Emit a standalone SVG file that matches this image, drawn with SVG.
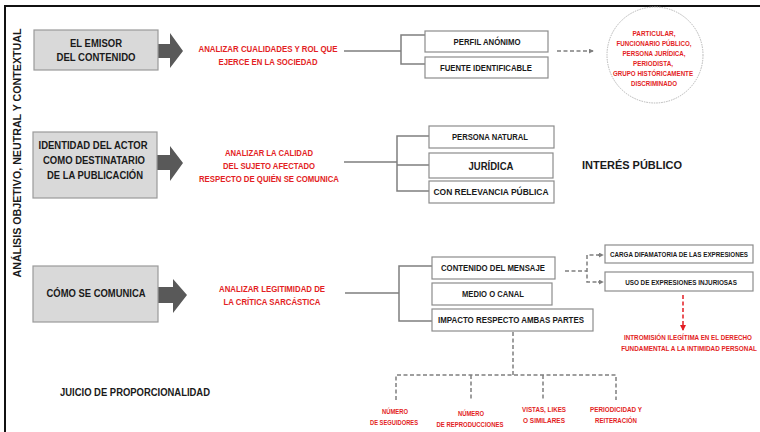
<svg xmlns="http://www.w3.org/2000/svg" width="760" height="432" viewBox="0 0 760 432">
<defs>
<style>
.frame{stroke:#111;stroke-width:2;fill:none}
.gbox{fill:#d9d9d9;stroke:#9a9a9a;stroke-width:1.2}
.wbox{fill:#fff;stroke:#8c8c8c;stroke-width:1.2}
.bracket{fill:none;stroke:#7f7f7f;stroke-width:1.5}
.dash{fill:none;stroke:#7f7f7f;stroke-width:1.5;stroke-dasharray:4 2.5}
.rdash{fill:none;stroke:#e31e24;stroke-width:1.5;stroke-dasharray:4 2.5}
.bigarrow{fill:#595959}
.t{font-family:"Liberation Sans Narrow","Liberation Sans",Arial,sans-serif;text-anchor:middle;dominant-baseline:central}
.blk{fill:#1a1a1a;font-weight:bold}
.b11{font-size:11px}
.b9{font-size:9px}
.red{fill:#e31e24}
.r9{font-size:9px;font-weight:bold}
.r8{font-size:8px;font-weight:bold}
</style>
<marker id="ag" viewBox="0 0 6 6" refX="5" refY="3" markerWidth="5" markerHeight="5" orient="auto" markerUnits="userSpaceOnUse"><path d="M0,0 L6,3 L0,6 z" fill="#7f7f7f"/></marker>
<marker id="ar" viewBox="0 0 6 6" refX="5" refY="3" markerWidth="6" markerHeight="6" orient="auto" markerUnits="userSpaceOnUse"><path d="M0,0 L6,3 L0,6 z" fill="#e31e24"/></marker>
</defs>

<g id="frame">
<path class="frame" d="M5,432 V6 H760"/>
<text class="t blk" font-size="11" transform="translate(17,153) rotate(-90)" textLength="249" lengthAdjust="spacingAndGlyphs" style="font-family:'Liberation Sans',Arial,sans-serif">ANÁLISIS OBJETIVO, NEUTRAL Y CONTEXTUAL</text>
</g>

<g id="connectors">
<path class="bigarrow" d="M150,44 H170 V33 L183,51 L170,68 V58 H150 z"/>
<path class="bigarrow" d="M150,155 H170 V146 L183,163 L170,181 V170 H150 z"/>
<path class="bigarrow" d="M153,287 H173 V279 L187,295 L173,313 V303 H153 z"/>
<path class="bracket" d="M344,51 H401 M425,35 H401 V64 H425"/>
<path class="bracket" d="M344,162 H397 M429,136 H397 V191 H429 M397,165 H429"/>
<path class="bracket" d="M345,293 H399 M432,266 H399 V321 H432"/>
<line class="dash" x1="557" y1="51" x2="593" y2="51" marker-end="url(#ag)"/>
<path class="dash" d="M565,271 H587 M600,255 H587 V282 H600"/>
<line class="dash" x1="598" y1="255" x2="603" y2="255" marker-end="url(#ag)" stroke-dasharray="none"/>
<line class="dash" x1="598" y1="282" x2="603" y2="282" marker-end="url(#ag)" stroke-dasharray="none"/>
<line class="rdash" x1="683" y1="295" x2="683" y2="330" marker-end="url(#ar)"/>
<path class="dash" d="M513,332 V375 M396,400 V375 H616 V400 M471,375 V400 M543,375 V400"/>
</g>

<g id="emisor">
<rect class="gbox" x="34" y="30" width="124" height="40"/>
<text class="t blk b11" x="96" y="43" textLength="52" lengthAdjust="spacingAndGlyphs">EL EMISOR</text>
<text class="t blk b11" x="96" y="57" textLength="79" lengthAdjust="spacingAndGlyphs">DEL CONTENIDO</text>
</g>
<g id="analizar1">
<text class="t red r9" x="268" y="49" textLength="139" lengthAdjust="spacingAndGlyphs">ANALIZAR CUALIDADES Y ROL QUE</text>
<text class="t red r9" x="268" y="62" textLength="99" lengthAdjust="spacingAndGlyphs">EJERCE EN LA SOCIEDAD</text>
</g>
<g id="perfil">
<rect class="wbox" x="425" y="31" width="123" height="21"/>
<text class="t blk b9" x="487" y="42" textLength="67" lengthAdjust="spacingAndGlyphs">PERFIL ANÓNIMO</text>
</g>
<g id="fuente">
<rect class="wbox" x="425" y="57" width="123" height="21"/>
<text class="t blk b9" x="486" y="68" textLength="92" lengthAdjust="spacingAndGlyphs">FUENTE IDENTIFICABLE</text>
</g>
<g id="circulo">
<circle cx="655" cy="55" r="48" fill="#fff" stroke="#b5b5b5" stroke-width="1" stroke-dasharray="1.5 1"/>
<text class="t red r8" x="654" y="33" textLength="43" lengthAdjust="spacingAndGlyphs">PARTICULAR,</text>
<text class="t red r8" x="654" y="43" textLength="75" lengthAdjust="spacingAndGlyphs">FUNCIONARIO PÚBLICO,</text>
<text class="t red r8" x="654" y="53" textLength="63" lengthAdjust="spacingAndGlyphs">PERSONA JURÍDICA,</text>
<text class="t red r8" x="653" y="63" textLength="40" lengthAdjust="spacingAndGlyphs">PERIODISTA,</text>
<text class="t red r8" x="653" y="73" textLength="80" lengthAdjust="spacingAndGlyphs">GRUPO HISTÓRICAMENTE</text>
<text class="t red r8" x="654" y="83" textLength="46" lengthAdjust="spacingAndGlyphs">DISCRIMINADO</text>
</g>

<g id="identidad">
<rect class="gbox" x="33" y="132" width="124" height="66"/>
<text class="t blk b11" x="93" y="145" textLength="109" lengthAdjust="spacingAndGlyphs">IDENTIDAD DEL ACTOR</text>
<text class="t blk b11" x="94" y="160" textLength="102" lengthAdjust="spacingAndGlyphs">COMO DESTINATARIO</text>
<text class="t blk b11" x="95" y="175" textLength="96" lengthAdjust="spacingAndGlyphs">DE LA PUBLICACIÓN</text>
</g>
<g id="analizar2">
<text class="t red r9" x="269" y="153" textLength="88" lengthAdjust="spacingAndGlyphs">ANALIZAR LA CALIDAD</text>
<text class="t red r9" x="269" y="166" textLength="92" lengthAdjust="spacingAndGlyphs">DEL SUJETO AFECTADO</text>
<text class="t red r9" x="269" y="179" textLength="140" lengthAdjust="spacingAndGlyphs">RESPECTO DE QUIÉN SE COMUNICA</text>
</g>
<g id="natural">
<rect class="wbox" x="429" y="126" width="125" height="22"/>
<text class="t blk b9" x="490" y="137" textLength="76" lengthAdjust="spacingAndGlyphs">PERSONA NATURAL</text>
</g>
<g id="juridica">
<rect class="wbox" x="429" y="153" width="124" height="25"/>
<text class="t blk b11" x="491" y="166" textLength="45" lengthAdjust="spacingAndGlyphs">JURÍDICA</text>
</g>
<g id="relevancia">
<rect class="wbox" x="429" y="181" width="125" height="22"/>
<text class="t blk b9" x="491" y="192" textLength="115" lengthAdjust="spacingAndGlyphs">CON RELEVANCIA PÚBLICA</text>
</g>
<g id="interes">
<text class="t blk b11" x="632" y="165" textLength="100" lengthAdjust="spacingAndGlyphs">INTERÉS PÚBLICO</text>
</g>

<g id="como">
<rect class="gbox" x="33" y="266" width="125" height="56"/>
<text class="t blk b11" x="96" y="293" textLength="99" lengthAdjust="spacingAndGlyphs">CÓMO SE COMUNICA</text>
</g>
<g id="analizar3">
<text class="t red r9" x="272" y="289" textLength="106" lengthAdjust="spacingAndGlyphs">ANALIZAR LEGITIMIDAD DE</text>
<text class="t red r9" x="272" y="302" textLength="97" lengthAdjust="spacingAndGlyphs">LA CRÍTICA SARCÁSTICA</text>
</g>
<g id="contenido">
<rect class="wbox" x="432" y="257" width="123" height="22"/>
<text class="t blk b9" x="493" y="268" textLength="104" lengthAdjust="spacingAndGlyphs">CONTENIDO DEL MENSAJE</text>
</g>
<g id="medio">
<rect class="wbox" x="432" y="283" width="120" height="22"/>
<text class="t blk b9" x="493" y="294" textLength="62" lengthAdjust="spacingAndGlyphs">MEDIO O CANAL</text>
</g>
<g id="impacto">
<rect class="wbox" x="432" y="309" width="161" height="22"/>
<text class="t blk b9" x="511" y="320" textLength="146" lengthAdjust="spacingAndGlyphs">IMPACTO RESPECTO AMBAS PARTES</text>
</g>
<g id="carga">
<rect class="wbox" x="605" y="245" width="148" height="18"/>
<text class="t blk" font-size="8" transform="translate(679,254) scale(0.75,1)" textLength="184" lengthAdjust="spacingAndGlyphs">CARGA DIFAMATORIA DE LAS EXPRESIONES</text>
</g>
<g id="uso">
<rect class="wbox" x="605" y="272" width="148" height="19"/>
<text class="t blk" font-size="8" transform="translate(681,282) scale(0.74,1)" textLength="151" lengthAdjust="spacingAndGlyphs">USO DE EXPRESIONES INJURIOSAS</text>
</g>
<g id="intromision">
<text class="t red r8" transform="translate(688,338) scale(0.78,1)" textLength="164" lengthAdjust="spacingAndGlyphs">INTROMISIÓN ILEGÍTIMA EN EL DERECHO</text>
<text class="t red r8" transform="translate(689,349) scale(0.78,1)" textLength="174" lengthAdjust="spacingAndGlyphs">FUNDAMENTAL A LA INTIMIDAD PERSONAL</text>
</g>

<g id="juicio">
<text class="t blk b11" x="135" y="392" textLength="150" lengthAdjust="spacingAndGlyphs">JUICIO DE PROPORCIONALIDAD</text>
</g>
<g id="seguidores">
<text class="t red r8" x="395" y="411" textLength="26" lengthAdjust="spacingAndGlyphs">NÚMERO</text>
<text class="t red r8" x="394" y="422" textLength="48" lengthAdjust="spacingAndGlyphs">DE SEGUIDORES</text>
</g>
<g id="reproducciones">
<text class="t red r8" x="471" y="413" textLength="26" lengthAdjust="spacingAndGlyphs">NÚMERO</text>
<text class="t red r8" x="470" y="424" textLength="67" lengthAdjust="spacingAndGlyphs">DE REPRODUCCIONES</text>
</g>
<g id="vistas">
<text class="t red r8" x="544" y="409" textLength="44" lengthAdjust="spacingAndGlyphs">VISTAS, LIKES</text>
<text class="t red r8" x="544" y="420" textLength="42" lengthAdjust="spacingAndGlyphs">O SIMILARES</text>
</g>
<g id="periodicidad">
<text class="t red r8" x="616" y="409" textLength="52" lengthAdjust="spacingAndGlyphs">PERIODICIDAD Y</text>
<text class="t red r8" x="616" y="420" textLength="42" lengthAdjust="spacingAndGlyphs">REITERACIÓN</text>
</g>
</svg>
